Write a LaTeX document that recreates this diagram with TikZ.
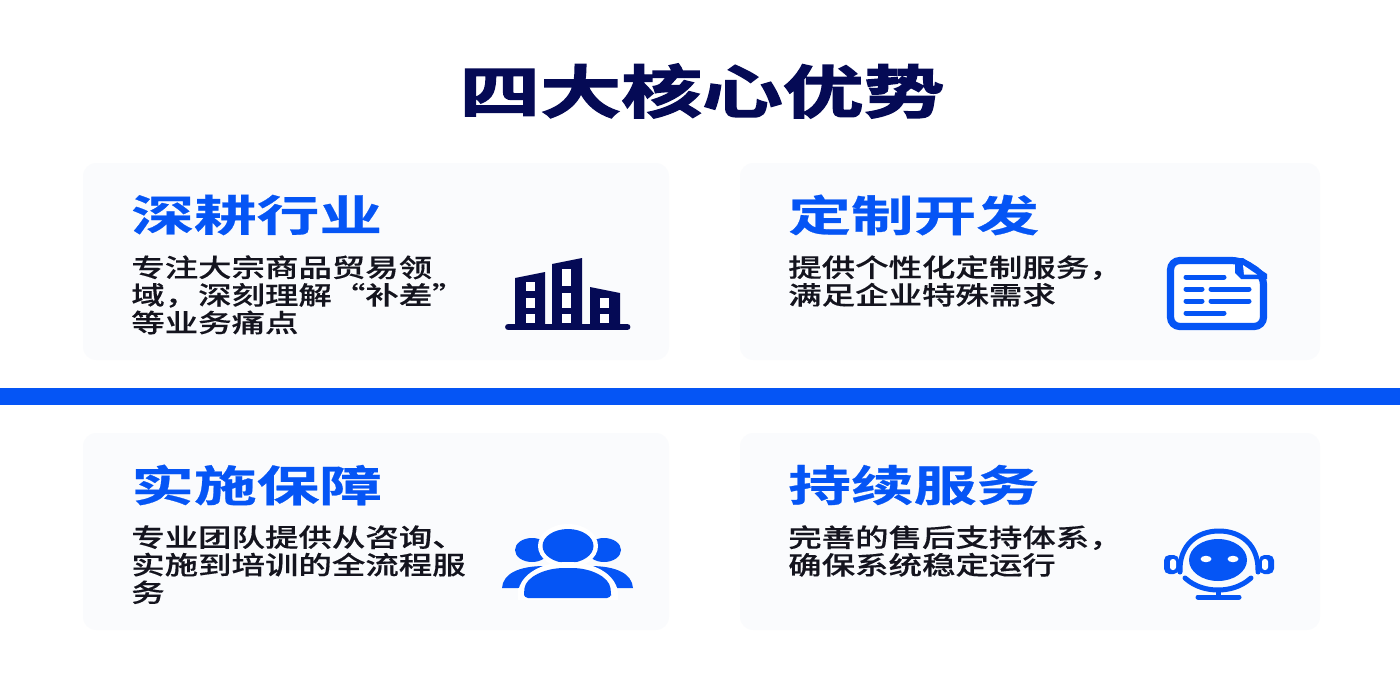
\documentclass[tikz,border=0pt]{standalone}
\usepackage{fontspec}
\usepackage{xcolor}
\newfontfamily\titlefont[FakeStretch=1.41,FakeBold=2.5]{Noto Sans CJK SC Bold}
\newfontfamily\headfont[FakeStretch=1.47,FakeBold=0.6]{Noto Sans CJK SC Bold}
\newfontfamily\bodyfont[FakeStretch=1.32,FakeBold=0.3]{Noto Sans CJK SC Medium}
\definecolor{blu}{RGB}{5,85,245}
\definecolor{nvy}{RGB}{5,10,85}
\definecolor{crd}{RGB}{250,251,253}
\definecolor{ink}{RGB}{20,20,30}
\tikzset{
	cardbox/.style={fill=crd,draw=none,rounded corners=10},
	titletext/.style={anchor=center,inner sep=0.75pt,text=nvy,font=\titlefont\fontsize{43}{43}\selectfont},
	headtext/.style={anchor=west,inner sep=0.75pt,text=blu,font=\headfont\fontsize{32}{32}\selectfont},
	bodytext/.style={anchor=north west,inner sep=0.75pt,text=ink,align=left,font=\bodyfont\fontsize{19}{20.7}\selectfont},
	iconline/.style={blu,line width=3.75,line cap=round},
	docline/.style={blu,line width=3.75,line cap=round}
}

\begin{document}
\begin{tikzpicture}[x=0.75pt,y=0.75pt,yscale=-1,xscale=1]
		\useasboundingbox (0,0) rectangle (1400,700);
		\fill [white] (0,0) rectangle (1400,700);

		\draw [cardbox] (83,163) rectangle (669,360);
		\draw [cardbox] (740,163) rectangle (1320,360);
		\draw [cardbox] (83,433) rectangle (669,630);
		\draw [cardbox] (740,433) rectangle (1320,630);
		\fill [blu] (0,388) rectangle (1400,405);

		\draw (702,91) node (title) [titletext] {四大核心优势};

		\draw (130,215) node (headA) [headtext] {深耕行业};
		\draw (130,254) node (bodyA) [bodytext] {专注大宗商品贸易领\\域，深刻理解“补差”\\等业务痛点};
		\draw (787,215) node (headB) [headtext] {定制开发};
		\draw (787,254) node (bodyB) [bodytext] {提供个性化定制服务，\\满足企业特殊需求};
		\draw (130,485) node (headC) [headtext] {实施保障};
		\draw (130,524) node (bodyC) [bodytext] {专业团队提供从咨询、\\实施到培训的全流程服\\务};
		\draw (787,485) node (headD) [headtext] {持续服务};
		\draw (787,524) node (bodyD) [bodytext] {完善的售后支持体系，\\确保系统稳定运行};

		%buildings
		\fill [nvy] (515,278) -- (545,272) -- (545,327) -- (515,327) -- cycle;
		\fill [nvy] (552,264) -- (582,258) -- (582,327) -- (552,327) -- cycle;
		\fill [nvy] (590,287) -- (620,293) -- (620,327) -- (590,327) -- cycle;
		\draw [nvy,line width=5.2,line cap=round] (508.5,327) -- (627,327);
		\fill [white] (526,282) rectangle (535,291);
		\fill [white] (526,298) rectangle (535,308);
		\fill [white] (526,314) rectangle (535,323);
		\fill [white] (562,269) rectangle (571,286);
		\fill [white] (562,293) rectangle (571,308);
		\fill [white] (562,314) rectangle (571,323);
		\fill [white] (600,298) rectangle (609,308);
		\fill [white] (600,314) rectangle (609,323);

		%document
		\draw [blu,line width=5.4,rounded corners=7,fill=white] (1241,260.5) -- (1170.5,260.5) -- (1170.5,326.5) -- (1263.5,326.5) -- (1263.5,275) -- cycle;
		\fill [blu] (1235,258) -- (1243,258) -- (1267,274) -- (1267,279) -- (1241,279) -- (1235,273) -- cycle;
		\fill [white] (1243,265) -- (1257,274.5) -- (1244,274.5) -- cycle;
		\draw [docline] (1186,277) -- (1224,277);
		\draw [docline] (1186,289) -- (1202,289);
		\draw [docline] (1211,289) -- (1249,289);
		\draw [docline] (1186,301) -- (1202,301);
		\draw [docline] (1211,301) -- (1249,301);
		\draw [docline] (1186,313) -- (1224,313);

		%people
		\fill [blu] (532,550) ellipse [x radius=17,y radius=12];
		\fill [blu] (604,550) ellipse [x radius=17,y radius=12];
		\fill [blu] (502,588) .. controls (503,574) and (518,566) .. (545,566) -- (545,588) -- cycle;
		\fill [blu] (633,588) .. controls (632,574) and (617,566) .. (590,566) -- (590,588) -- cycle;
		\fill [white] (518,588) -- (518,600) -- (617,600) -- (617,588) -- cycle;
		\fill [white] (568,546) ellipse [x radius=30,y radius=22];
		\fill [blu] (568,546) ellipse [x radius=25.5,y radius=17];
		\fill [white] (518,600) -- (518,592) .. controls (521,573) and (543,562) .. (568,562) .. controls (593,562) and (615,573) .. (618,592) -- (618,600) -- cycle;
		\fill [blu,rounded corners=3] (524,598) -- (524,592) .. controls (526,577) and (545,568) .. (568,568) .. controls (591,568) and (609,577) .. (611,592) -- (611,598) -- cycle;

		%headset
		\fill [blu] (1218,560) ellipse [x radius=29,y radius=21];
		\fill [white] (1206,559) ellipse [x radius=5.5,y radius=3.2];
		\fill [white] (1233,559) ellipse [x radius=5.5,y radius=3.2];
		\draw [iconline] (1180,572) .. controls (1179,545) and (1197,531) .. (1219,531) .. controls (1241,531) and (1259,545) .. (1258,572);
		\fill [blu,rounded corners=4] (1179,555) -- (1164,555) -- (1164,574) -- (1179,574) -- cycle;
		\fill [white,rounded corners=2] (1176,559) -- (1170,559) -- (1170,570) -- (1176,570) -- cycle;
		\fill [blu,rounded corners=4] (1259,555) -- (1274,555) -- (1274,574) -- (1259,574) -- cycle;
		\fill [white,rounded corners=2] (1262,559) -- (1268,559) -- (1268,570) -- (1262,570) -- cycle;
		\draw [iconline] (1185,578) .. controls (1195,587) and (1207,590) .. (1218,590) .. controls (1229,590) and (1241,587) .. (1251,578);
		\draw [blu,line width=3.75] (1218,590) -- (1218,597);
		\draw [iconline] (1198,597) -- (1239,597);
\end{tikzpicture}
\end{document}
